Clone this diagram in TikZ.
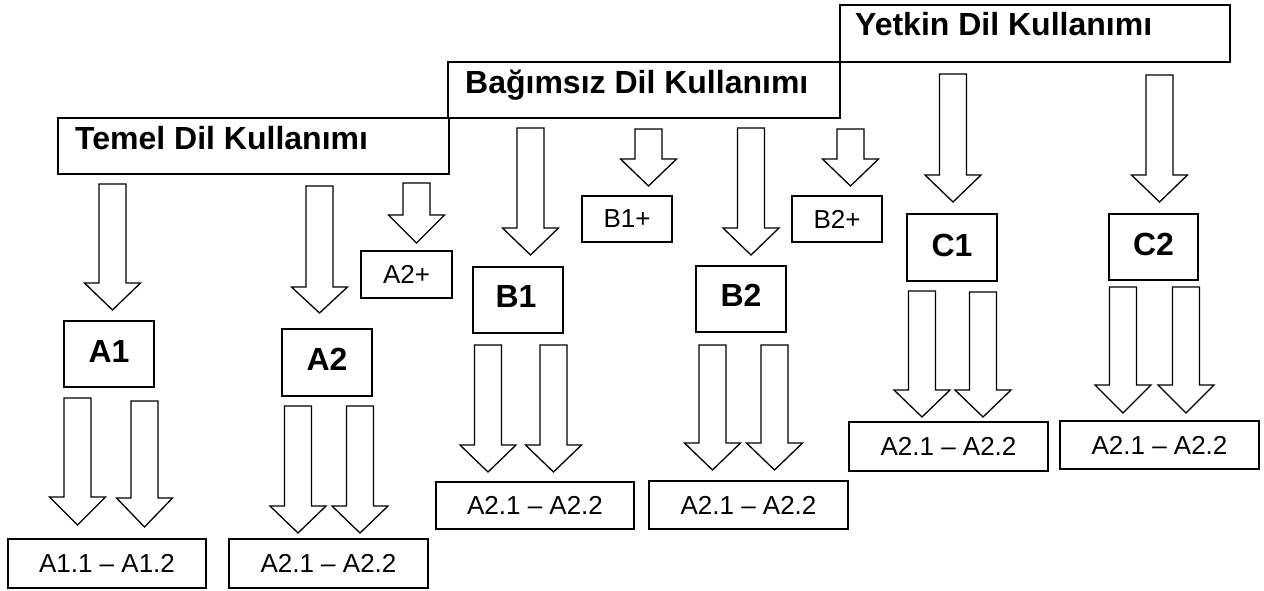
\documentclass[tikz,border=0pt]{standalone}
\usepackage{fontspec}
\setmainfont{Liberation Sans}
\newcommand{\blkarr}[4]{\draw[barr] (#1-13.5,#2) -- (#1+13.5,#2) -- (#1+13.5,#3) -- (#1+28,#3) -- (#1,#4) -- (#1-28,#3) -- (#1-13.5,#3) -- cycle;}
\begin{document}
\begin{tikzpicture}[x=1pt,y=-1pt,
  hdr/.style={draw,line width=2.6pt,inner sep=0pt,outer sep=0pt,anchor=north west},
  hdrtxt/.style={anchor=base west,inner sep=0pt,font=\fontsize{32}{36}\selectfont\bfseries},
  lvl/.style={draw,line width=1.2pt,inner sep=0pt,outer sep=0pt},
  lvltxt/.style={inner sep=0pt,font=\fontsize{32}{36}\selectfont\bfseries},
  sub/.style={draw,line width=1.2pt,inner sep=0pt,outer sep=0pt,font=\fontsize{26}{30}\selectfont},
  barr/.style={draw,line width=1.3pt,fill=white,line join=miter}]
\useasboundingbox (0,0) rectangle (1264,590);
% header boxes
\node[hdr,minimum width=391pt,minimum height=56pt] (temel) at (58,118) {};
\node[hdr,minimum width=392pt,minimum height=56pt] (bag) at (448,62) {};
\node[hdr,minimum width=390pt,minimum height=57pt] (yet) at (840,5) {};
\node[hdrtxt] (temelt) at (75,149) {Temel Dil Kullanımı};
\node[hdrtxt] (bagt) at (465,93) {Bağımsız Dil Kullanımı};
\node[hdrtxt] (yett) at (855,35) {Yetkin Dil Kullanımı};
% level boxes
\node[lvl,minimum width=90pt,minimum height=66pt] (a1) at (109,354) {};
\node[lvltxt] (a1t) at (109,351) {A1};
\node[lvl,minimum width=90pt,minimum height=67pt] (a2) at (327,362.5) {};
\node[lvltxt] (a2t) at (327,359.5) {A2};
\node[sub,minimum width=91pt,minimum height=47pt] (a2p) at (406.5,274.5) {A2+};
\node[lvl,minimum width=90pt,minimum height=66pt] (b1) at (518,300) {};
\node[lvltxt] (b1t) at (516,296) {B1};
\node[sub,minimum width=90pt,minimum height=46pt] (b1p) at (627,219) {B1+};
\node[lvl,minimum width=90pt,minimum height=66pt] (b2) at (741,299) {};
\node[lvltxt] (b2t) at (741,295) {B2};
\node[sub,minimum width=90pt,minimum height=46pt] (b2p) at (837,219) {B2+};
\node[lvl,minimum width=90pt,minimum height=67pt] (c1) at (952,247.5) {};
\node[lvltxt] (c1t) at (952,245) {C1};
\node[lvl,minimum width=89pt,minimum height=66pt] (c2) at (1153.5,247) {};
\node[lvltxt] (c2t) at (1153.5,244) {C2};
% sub-level boxes
\node[sub,minimum width=198pt,minimum height=49pt] (a1s) at (107,563.5) {A1.1 – A1.2};
\node[sub,minimum width=199pt,minimum height=49pt] (a2s) at (328.5,563.5) {A2.1 – A2.2};
\node[sub,minimum width=198pt,minimum height=47pt] (b1s) at (535,505.5) {A2.1 – A2.2};
\node[sub,minimum width=199pt,minimum height=48pt] (b2s) at (748.5,505) {A2.1 – A2.2};
\node[sub,minimum width=199pt,minimum height=49pt] (c1s) at (948.5,446.5) {A2.1 – A2.2};
\node[sub,minimum width=199pt,minimum height=48pt] (c2s) at (1159.5,445) {A2.1 – A2.2};
% block arrows from headers
\blkarr{112.5}{184}{283}{310}
\blkarr{319.5}{186}{287}{313}
\blkarr{416.5}{183}{215}{243}
\blkarr{530.5}{128}{228}{255}
\blkarr{648.5}{129}{159}{186}
\blkarr{751}{128}{228}{255}
\blkarr{850.5}{129}{159}{186}
\blkarr{953}{74}{175}{202}
\blkarr{1159.5}{75}{175}{202}
% block arrows to sub-levels
\blkarr{77.5}{398}{497}{525}
\blkarr{144.5}{401}{498}{527}
\blkarr{298}{406}{506}{533}
\blkarr{360}{406}{506}{533}
\blkarr{488}{345}{445}{472}
\blkarr{553.5}{345}{445}{472}
\blkarr{712.5}{345}{443}{470}
\blkarr{774.5}{345}{443}{470}
\blkarr{922}{291}{390}{417}
\blkarr{983}{292}{390}{417}
\blkarr{1123}{287}{385}{413}
\blkarr{1186}{287}{385}{413}
\end{tikzpicture}
\end{document}
